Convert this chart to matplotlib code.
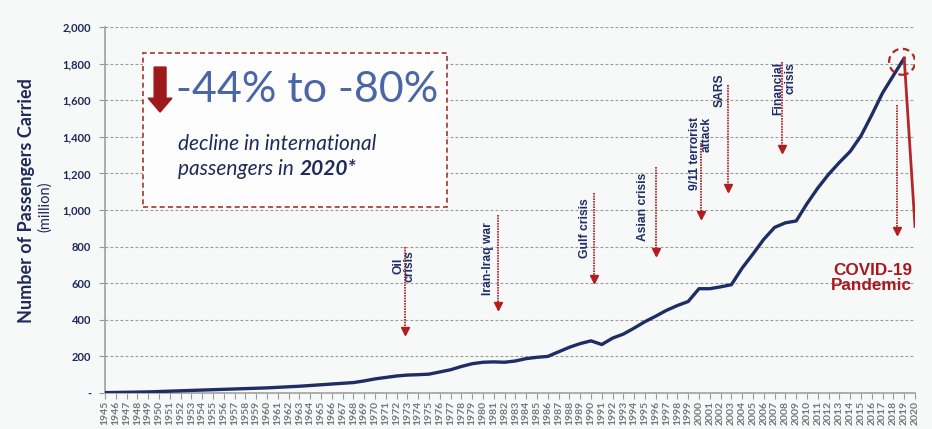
import matplotlib
matplotlib.use("Agg")
import matplotlib.pyplot as plt
import matplotlib.patches as mpatches
from matplotlib.transforms import offset_copy

plt.rcParams['font.family'] = ['Lato', 'DejaVu Sans']

# ---------------- data ----------------
years = list(range(1945, 2021))
passengers = [2, 3, 4, 5, 6, 8, 10, 12, 14, 16,
              18, 20, 22, 24, 26, 28, 31, 34, 37, 41,
              45, 49, 53, 57, 66, 77, 85, 93, 98, 100,
              103, 115, 127, 145, 160, 168, 170, 168, 175, 188,
              195, 200, 225, 250, 270, 285, 265, 300, 322, 355,
              390, 420, 452, 478, 500, 570, 570, 580, 592, 683,
              760, 840, 905, 930, 940, 1035, 1120, 1195, 1260, 1320,
              1405, 1520, 1640, 1735, 1830, 910]
year_labels = [str(y) for y in years]
y_ticks = [0, 200, 400, 600, 800, 1000, 1200, 1400, 1600, 1800, 2000]
y_tick_labels = ['-', '200', '400', '600', '800', '1,000', '1,200', '1,400',
                 '1,600', '1,800', '2,000']

event_names = ['Oil\ncrisis', 'Iran-Iraq war', 'Gulf crisis', 'Asian crisis',
               '9/11 terrorist\nattack', 'SARS', 'Financial\ncrisis']
event_line_x = [1972.8, 1981.4, 1990.3, 1996.0, 2000.2, 2002.7, 2007.7]
event_top = [798, 973, 1093, 1235, 1366, 1683, 1808]
event_bottom = [317, 453, 601, 749, 951, 1098, 1311]
event_text_x = [1972.7, 1980.5, 1989.4, 1994.8, 2000.2, 2001.9, 2007.9]
event_text_top = [781, 934, 1065, 1202, 1508, 1748, 1808]
event_align = ['center', 'left', 'left', 'left', 'right', 'left', 'right']

covid_line_x = 2018.3
covid_top = 1574
covid_bottom = 863

NAVY = '#1f2d66'
DARKRED = '#a8181c'
GRAY = '#9a9a9a'
BG = '#f7f8f8'

fig = plt.figure(figsize=(9.32, 4.29), dpi=100, facecolor=BG)
ax = fig.add_axes([105/932, 1-393/429, 810/932, (393-27)/429])
ax.set_facecolor(BG)

# grid
for yv in y_ticks[1:]:
    ax.axhline(yv, color=GRAY, lw=0.8, ls=(0, (2.5, 2)), zorder=0)

# main line
ax.plot(years[:-1], passengers[:-1], color=NAVY, lw=2.4, solid_capstyle='round', zorder=3)
ax.plot(years[-2:], passengers[-2:], color='#b3262a', lw=2.0, zorder=3)

# circle at peak
peak_x, peak_y = years[-2], passengers[-2]
circ = mpatches.Ellipse((peak_x - 0.2, peak_y - 20), width=2.4, height=142, fill=False,
                        edgecolor='#b3262a', lw=1.6, ls=(0, (3, 2)), zorder=4)
ax.add_patch(circ)

# event arrows
tri_tr = offset_copy(ax.transData, fig=fig, y=3, units='points')
for name, lx, top, bot, tx, ttop, al in zip(event_names, event_line_x, event_top,
                                             event_bottom, event_text_x, event_text_top,
                                             event_align):
    ax.plot([lx, lx], [top, bot], color=DARKRED, lw=1.2, ls=(0, (1, 0.6)), zorder=2)
    ax.plot([lx], [bot], marker='v', ms=6, color='#b01e1e', transform=tri_tr, zorder=2)
    ax.text(tx, ttop, name, rotation=90, ha='center', va='top', multialignment=al,
            family=['Liberation Sans', 'DejaVu Sans'], fontweight='bold', fontsize=8.7,
            color=NAVY, linespacing=0.95, zorder=3)

ax.plot([covid_line_x, covid_line_x], [covid_top, covid_bottom], color=DARKRED, lw=1.2,
        ls=(0, (1, 0.6)), zorder=2)
ax.plot([covid_line_x], [covid_bottom], marker='v', ms=6, color='#b01e1e',
        transform=tri_tr, zorder=2)
ax.text(2019.7, 628, 'COVID-19\nPandemic', ha='right', va='center', multialignment='right',
        family=['Liberation Sans', 'DejaVu Sans'], fontweight='bold', fontsize=12.3,
        color='#a8181c', linespacing=1.0, zorder=3)

# info box
box = mpatches.Rectangle((1948.5, 1016), 28.2, 840, facecolor='#fdfdfd', edgecolor='#a83232',
                         lw=1.2, ls=(0, (3, 2)), zorder=3)
ax.add_patch(box)
arr = mpatches.FancyArrow(1950.1, 1781, 0, -246, width=1.1, head_width=2.2, head_length=76,
                          length_includes_head=True, color='#9e1a1a', zorder=4)
ax.add_patch(arr)
ax.text(1951.6, 1656, '-44% to -80%', ha='left', va='center', fontsize=31,
        color='#4a66a6', zorder=4)
ax.text(1951.8, 1360, 'decline in international', ha='left', va='center', fontsize=15,
        style='italic', color='#1f2a5a', zorder=4)
t2 = ax.text(1951.8, 1222, 'passengers in ', ha='left', va='center', fontsize=15,
             style='italic', color='#1f2a5a', zorder=4)
ax.annotate('2020*', xy=(1, 0), xycoords=t2, ha='left', va='bottom', fontsize=15,
            style='italic', fontweight='bold', color='#1f2a5a', zorder=4)

# axes
ax.set_xlim(years[0], years[-1])
ax.set_ylim(0, 2000)
ax.set_xticks(years)
ax.set_xticklabels(year_labels, rotation=90, fontsize=7.5, fontweight='bold', color='#75757f')
ax.set_yticks(y_ticks)
ax.set_yticklabels(y_tick_labels, fontsize=8, fontweight='bold', color='#1f2a5a')
ax.tick_params(axis='x', length=4, color=GRAY, pad=1.5)
ax.tick_params(axis='y', length=4, color=GRAY, pad=6)
for s in ['top', 'right']:
    ax.spines[s].set_visible(False)
for s in ['left', 'bottom']:
    ax.spines[s].set_color('#a0a0a0')
    ax.spines[s].set_linewidth(1.2)

fig.text(27/932, 1-201/429, 'Number of Passengers Carried', rotation=90, ha='center',
         va='center', fontsize=13, fontweight='bold', color='#1f2a5a')
fig.text(45/932, 1-207/429, '(million)', rotation=90, ha='center', va='center',
         fontsize=10.5, color='#1f2a5a')

fig.savefig('out.png', dpi=100, facecolor=BG)
